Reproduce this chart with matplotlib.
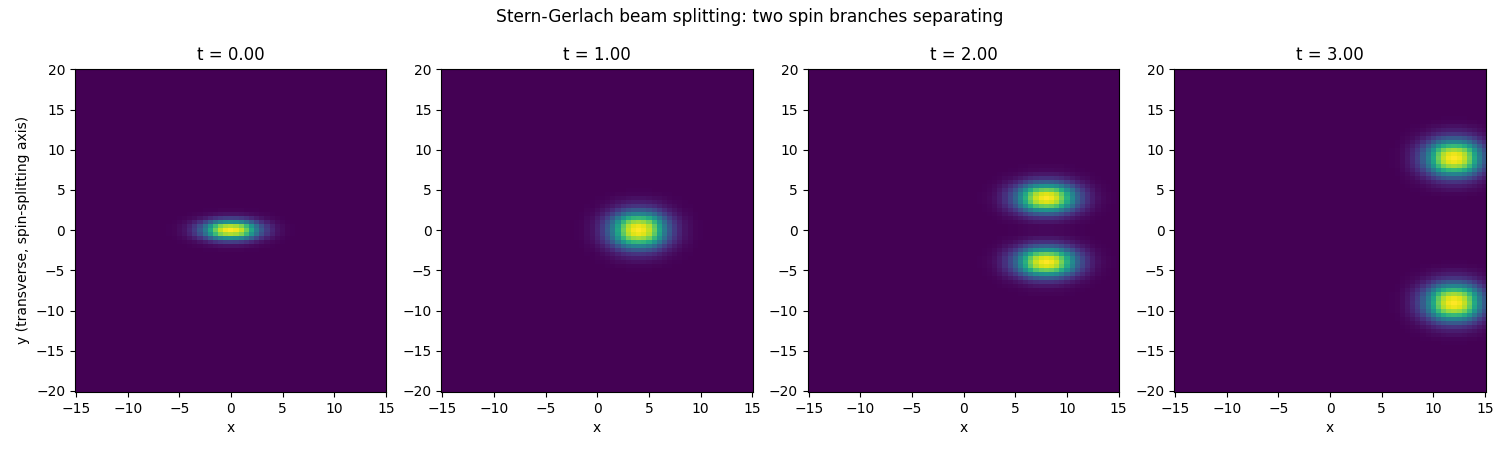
import numpy as np
import matplotlib
matplotlib.use("Agg")
import matplotlib.pyplot as plt

plt.rcParams["font.size"] = 10

times = [0.00, 1.00, 2.00, 3.00]

# blob centres
x_centres = [0, 4, 8, 12]
y_centres = [[0], [0], [-4, 4], [-9, 9]]

# brightness going out from a blob centre, one value every half unit
x_profile_t0 = [1.0, 0.98, 0.91, 0.77, 0.59, 0.41, 0.27, 0.17, 0.10, 0.05, 0.03, 0.01, 0.005]
y_profile_t0 = [1.0, 0.88, 0.50, 0.18, 0.05, 0.01]
x_profile_t1 = [1.0, 0.98, 0.91, 0.77, 0.59, 0.41, 0.27, 0.17, 0.10, 0.05, 0.03, 0.01, 0.005]
y_profile_t1 = [1.0, 0.97, 0.86, 0.67, 0.45, 0.28, 0.15, 0.08, 0.04, 0.015, 0.005]
x_profile_t2 = [1.0, 0.98, 0.92, 0.79, 0.63, 0.47, 0.32, 0.22, 0.14, 0.08, 0.04, 0.02, 0.01, 0.005]
y_profile_t2 = [1.0, 0.95, 0.78, 0.52, 0.29, 0.14, 0.06, 0.02, 0.01]
x_profile_t3 = [1.0, 0.98, 0.91, 0.78, 0.60, 0.43, 0.29, 0.18, 0.11, 0.06, 0.03, 0.01, 0.005]
y_profile_t3 = [1.0, 0.97, 0.86, 0.67, 0.45, 0.28, 0.15, 0.08, 0.04, 0.015, 0.005]

x_profiles = [x_profile_t0, x_profile_t1, x_profile_t2, x_profile_t3]
y_profiles = [y_profile_t0, y_profile_t1, y_profile_t2, y_profile_t3]

x_grid = np.arange(-15, 15.01, 0.5)
y_grid = np.arange(-20, 20.01, 0.5)


def lay_out(profile, centre, grid):
    # put a profile on the grid, mirrored around its centre
    line = np.zeros(len(grid))
    for k, v in enumerate(profile):
        for pos in (centre - k * 0.5, centre + k * 0.5):
            idx = np.where(np.isclose(grid, pos))[0]
            if len(idx):
                line[idx[0]] = v
    return line


fig, axes = plt.subplots(1, 4, figsize=(15, 4.5))

for i, ax in enumerate(axes):
    xline = lay_out(x_profiles[i], x_centres[i], x_grid)
    yline = sum(lay_out(y_profiles[i], c, y_grid) for c in y_centres[i])
    ax.pcolormesh(x_grid, y_grid, np.outer(yline, xline), shading="nearest",
                  cmap="viridis", vmin=0, vmax=1)
    ax.set_xlim(-15.1, 15.05)
    ax.set_ylim(-20.1, 20.1)
    ax.set_xticks(range(-15, 16, 5))
    ax.set_yticks(range(-20, 21, 5))
    ax.set_title(f"t = {times[i]:.2f}", fontsize=12)
    ax.set_xlabel("x")

axes[0].set_ylabel("y (transverse, spin-splitting axis)")
fig.suptitle("Stern-Gerlach beam splitting: two spin branches separating", fontsize=12.27, y=0.982)
fig.subplots_adjust(left=75 / 1500, right=1485.5 / 1500, top=1 - 68.5 / 450,
                    bottom=1 - 391.8 / 450, wspace=0.177)
fig.savefig("out.png", dpi=100)
